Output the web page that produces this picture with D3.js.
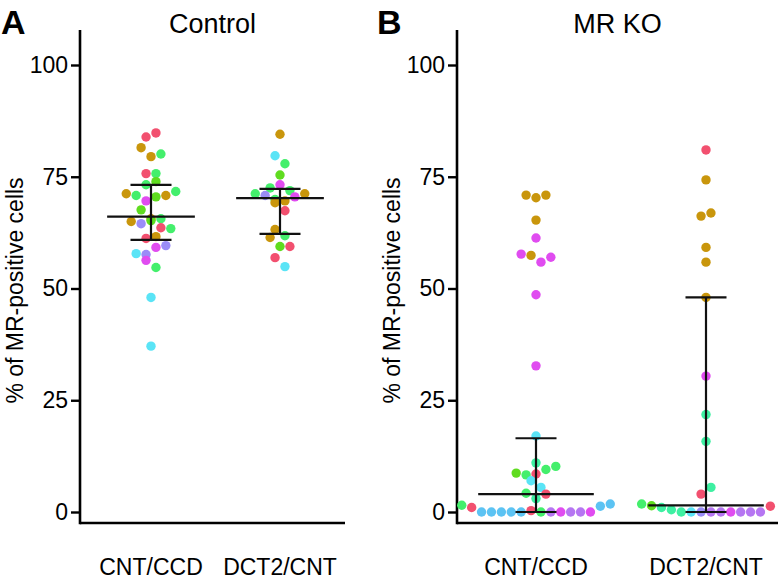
<!DOCTYPE html>
<html><head><meta charset="utf-8">
<script src="https://cdn.jsdelivr.net/npm/d3@7"></script>
<style>
body{margin:0;background:#fff}
svg{display:block}
text{font-family:"Liberation Sans",Arial,Helvetica,sans-serif;fill:#000}
</style>
</head><body>
<svg id="chart" width="780" height="583"></svg>
<script>
// ---------------- data ----------------
const categories = ["CNT/CCD", "DCT2/CNT"];
const yTicks = [0, 25, 50, 75, 100];
const panelTitles = ["Control", "MR KO"];
const panelLetters = ["A", "B"];
const yTitle = "% of MR-positive cells";

// values (%) and animal id per point (animal id -> colour)
const ctrlCntCcdValues  = [83.9,84.8, 81.5,79.5,80.1, 75.7,75.7, 73.2,73.9, 71.2,70.8,69.6,70.5,70.8,71.7, 67.6, 65.6,65.0,65.6,64.5,65.2, 63.6,63.4, 61.2,61.6, 57.8,57.6,59.2,59.6, 56.3, 54.7, 48.0, 37.1];
const ctrlCntCcdAnimals = [0,0, 2,2,1, 0,1, 1,6, 2,1,5,6,2,1, 6, 2,2,1,4,6, 0,1, 0,2, 3,4,5,4, 5, 1, 3, 3];

const ctrlDct2Values  = [84.5, 79.7, 77.9, 75.4, 72.5,73.2,71.9, 71.2,70.8,69.9,69.6,70.5,71.2, 69.2, 67.4, 63.2, 61.4,61.8, 59.4,59.4, 56.9, 54.9];
const ctrlDct2Animals = [2, 3, 1, 6, 1,5,1, 1,4,1,2,5,2, 2, 0, 2, 2,1, 6,0, 0, 3];

const koCntCcdValues  = [70.9,70.3,70.9, 65.3, 61.3, 57.7,57.4,55.9,57.0, 48.6, 32.7, 17.0, 11.0,
                         8.7,8.3,8.5,9.5,10.2, 7.0,5.5, 4.2,3.0,4.0,
                         1.5,1.0,0,0,0,0,0,0.3,0,0,0,0,0,0,1.3,1.8];
const koCntCcdAnimals = [2,2,2, 2, 5, 5,2,5,5, 5, 5, 3, 7,
                         6,1,0,1,1, 3,3, 1,7,0,
                         1,0,8,8,8,8,8,0,1,9,5,9,9,5,8,8];

const koDct2Values  = [81.0, 74.3, 66.2,66.9, 59.2, 55.9, 48.0, 30.4, 21.8, 15.8, 4.0,5.5,
                       1.8,1.4,1.0,0.5,0,0,0,0,0,0,0,0,0,1.3];
const koDct2Animals = [0, 2, 2,2, 2, 2, 2, 5, 7, 7, 0,7,
                       1,6,7,7,7,3,4,9,9,5,9,9,9,0];

// summary lines: median and interquartile range
const ctrlMedian = [66.1, 70.2];
const ctrlQ1     = [60.9, 62.2];
const ctrlQ3     = [73.2, 72.3];
const koMedian   = [4.0, 1.5];
const koQ1       = [0, 0];
const koQ3       = [16.5, 48.0];

// ---------------- style ----------------
const palette = ["#f2506f", "#44ef6c", "#c9960c", "#5ae4f6", "#9a8cf7", "#e04cf0", "#5fdc1f", "#3ef0a2", "#5cc3f3", "#b676f2"];
const R = 4.7, SPACING = 9.9;

const svg = d3.select("#chart");
const y = d3.scaleLinear().domain([0, 100]).range([512, 65]);
const axisTop = 30, axisBottomY = 523;

const panels = [
  { letter: panelLetters[0], title: panelTitles[0], axisX: 80, xEnd: 345, centers: [151, 280], letterX: 1,
    groups: [[ctrlCntCcdValues, ctrlCntCcdAnimals], [ctrlDct2Values, ctrlDct2Animals]],
    med: ctrlMedian, q1: ctrlQ1, q3: ctrlQ3 },
  { letter: panelLetters[1], title: panelTitles[1], axisX: 457, xEnd: 778, centers: [536, 706], letterX: 377,
    groups: [[koCntCcdValues, koCntCcdAnimals], [koDct2Values, koDct2Animals]],
    med: koMedian, q1: koQ1, q3: koQ3 }
];

// Prism-like row layout: points within ~one symbol height share a row (built from the bottom up)
function layout(values, animals, cx) {
  const pts = values.map((v, i) => ({ v, a: animals[i], i }));
  const sorted = pts.slice().sort((p, q) => p.v - q.v || p.i - q.i);
  const rows = [];
  let cur = null;
  sorted.forEach(p => {
    if (cur && (y(cur[0].v) - y(p.v)) <= 9.6) cur.push(p);
    else { cur = [p]; rows.push(cur); }
  });
  rows.forEach(row => {
    row.sort((p, q) => p.i - q.i);
    row.forEach((p, k) => { p.x = cx + (k - (row.length - 1) / 2) * SPACING; p.y = y(p.v); });
  });
  return pts;
}

panels.forEach(P => {
  const g = svg.append("g");
  const x = d3.scalePoint().domain(categories).range(P.centers);
  const step = P.centers[1] - P.centers[0];

  // letter and title
  g.append("text").attr("x", P.letterX).attr("y", 34).attr("font-size", 34).attr("font-weight", "bold").text(P.letter);
  g.append("text").attr("x", (P.axisX + P.xEnd) / 2).attr("y", 33).attr("font-size", 27)
    .attr("text-anchor", "middle").text(P.title);

  // y axis
  const yAxis = d3.axisLeft(y).tickValues(yTicks).tickSize(9).tickPadding(3).tickFormat(d3.format("d"));
  const ga = g.append("g").attr("transform", `translate(${P.axisX},0)`).call(yAxis);
  ga.select(".domain").remove();
  ga.selectAll(".tick line").attr("stroke", "#000").attr("stroke-width", 2.4);
  ga.selectAll(".tick text").attr("font-size", 23).attr("font-family", "Liberation Sans, Arial, sans-serif").attr("fill", "#000");
  g.append("line").attr("x1", P.axisX).attr("x2", P.axisX).attr("y1", axisTop).attr("y2", axisBottomY + 1.3)
    .attr("stroke", "#000").attr("stroke-width", 2.6);
  g.append("line").attr("x1", P.axisX).attr("x2", P.xEnd).attr("y1", axisBottomY).attr("y2", axisBottomY)
    .attr("stroke", "#000").attr("stroke-width", 2.6);

  // y title
  g.append("text").attr("transform", `translate(${P.axisX - 57},${(y(0) + y(100)) / 2 + 2}) rotate(-90)`)
    .attr("text-anchor", "middle").attr("font-size", 23).text(yTitle);

  // x labels
  g.selectAll(".xl").data(categories).enter().append("text")
    .attr("x", d => x(d)).attr("y", 575).attr("text-anchor", "middle").attr("font-size", 23).text(d => d);

  // points
  P.groups.forEach(([vals, ans], gi) => {
    const pts = layout(vals, ans, x(categories[gi]));
    g.append("g").selectAll("circle").data(pts).enter().append("circle")
      .attr("cx", d => d.x).attr("cy", d => d.y).attr("r", R).attr("fill", d => palette[d.a]);
  });

  // median + IQR lines (drawn over points)
  categories.forEach((c, gi) => {
    const cx = x(c), mw = step * 0.34, cw = 20.5;
    const L = g.append("g").attr("stroke", "#111").attr("stroke-width", 2.2);
    L.append("line").attr("x1", cx).attr("x2", cx).attr("y1", y(P.q1[gi])).attr("y2", y(P.q3[gi]));
    L.append("line").attr("x1", cx - cw).attr("x2", cx + cw).attr("y1", y(P.q1[gi])).attr("y2", y(P.q1[gi]));
    L.append("line").attr("x1", cx - cw).attr("x2", cx + cw).attr("y1", y(P.q3[gi])).attr("y2", y(P.q3[gi]));
    L.append("line").attr("x1", cx - mw).attr("x2", cx + mw).attr("y1", y(P.med[gi])).attr("y2", y(P.med[gi]));
  });
});
</script>
</body></html>
